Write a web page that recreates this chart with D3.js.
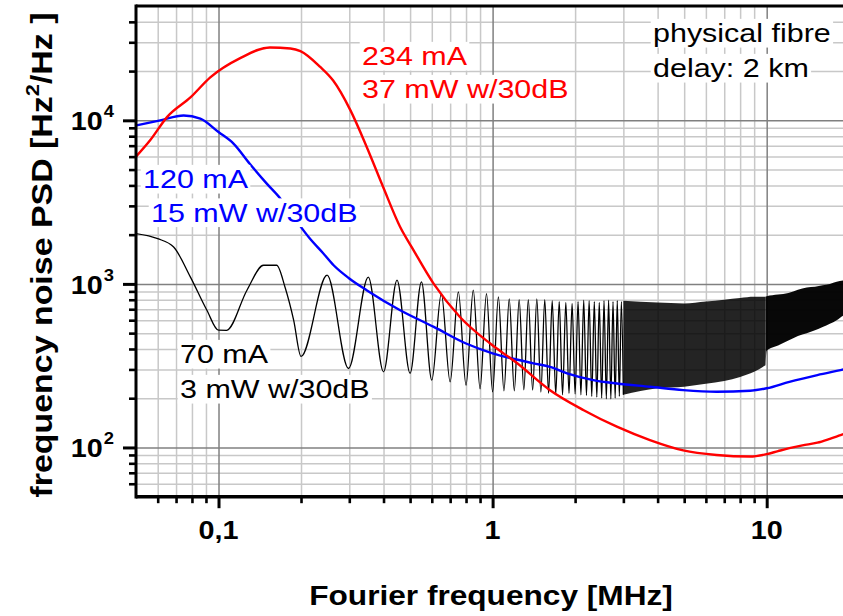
<!DOCTYPE html>
<html>
<head>
<meta charset="utf-8">
<script src="https://cdn.jsdelivr.net/npm/d3@7"></script>
<style>
  body { margin: 0; background: #fff; }
  text { font-family: "Liberation Sans", Arial, sans-serif; }
</style>
</head>
<body>
<svg id="chart"></svg>
<script>
// ---- data (frequency in MHz, PSD in Hz^2/Hz) ----
const redF = [0.05, 0.0563, 0.065, 0.079, 0.0933, 0.12, 0.154, 0.183, 0.199, 0.235, 0.262, 0.303, 0.347,
  0.399, 0.46, 0.51, 0.61, 0.76, 0.98, 1.23, 1.62, 2.15, 2.84, 3.75, 4.96, 6.56, 8.7, 10, 11, 12.1, 13.5,
  15.3, 17, 18.6, 20];
const redV = [6000, 7550, 10500, 13800, 18300, 24000, 27900, 27500, 26500, 21200, 17500, 11500, 6900,
  3900, 2230, 1650, 1000, 628, 432, 327, 224, 169, 134, 111, 96, 90, 88, 91, 95, 99, 103,
  107, 113, 119, 124];

const blueF = [0.05, 0.0613, 0.0746, 0.0858, 0.1, 0.1134, 0.13, 0.15, 0.168, 0.19, 0.215, 0.24, 0.263, 0.3,
  0.347, 0.46, 0.61, 0.8, 1.0, 1.41, 1.62, 1.87, 2.33, 2.84, 3.75, 4.96, 6.56, 8.7, 10, 12.1, 15.3, 18.6, 20];
const blueV = [9300, 10000, 10700, 10240, 8480, 7210, 5430, 4100, 3330, 2500, 1900, 1550, 1300, 1080,
  915, 690, 546, 432, 376, 327, 311, 284, 258, 246, 235, 224, 219, 222, 230, 252, 277, 297, 305];

// black trace: resolved fringes (peaks and troughs) up to 3 MHz
const blackF = [0.05, 0.06, 0.0686, 0.079, 0.0907, 0.1, 0.107, 0.127, 0.146, 0.163, 0.175, 0.188, 0.2,
  0.249, 0.298, 0.352, 0.4, 0.448, 0.5, 0.55, 0.6, 0.65, 0.7, 0.75, 0.8, 0.85, 0.9, 0.95, 1.0,
  1.05, 1.1, 1.15, 1.2, 1.25, 1.3, 1.35, 1.4, 1.45, 1.5, 1.55, 1.6, 1.65, 1.7, 1.75, 1.8, 1.85, 1.9, 1.95, 2.0,
  2.05, 2.1, 2.15, 2.2, 2.25, 2.3, 2.35, 2.4, 2.45, 2.5, 2.55, 2.6, 2.65, 2.7, 2.75, 2.8, 2.85, 2.9, 2.95, 3.0];
const blackV = [2030, 1890, 1680, 1100, 690, 521, 520, 915, 1300, 1300, 950, 600, 360,
  1130, 304, 1100, 290, 1055, 284, 1030, 258, 873, 252, 894, 240, 915, 228, 873, 219,
  834, 222, 810, 222, 800, 225, 800, 224, 810, 218, 800, 214, 790, 212, 780, 210, 770, 214, 760, 212,
  780, 210, 795, 208, 790, 205, 780, 203, 770, 200, 790, 198, 795, 198, 780, 200, 790, 205, 780, 210];

// black trace above 3 MHz: fringes too dense to resolve, read as a band
const bandF  = [3, 4, 5, 6, 7, 8, 9, 9.9];
const bandHi = [790, 770, 760, 780, 800, 820, 834, 834];
const bandLo = [210, 230, 235, 245, 255, 270, 290, 318];
const band2F  = [9.9, 10, 11, 12, 13, 14, 15, 16, 17, 18, 19, 20];
const band2Hi = [834, 840, 860, 880, 920, 950, 960, 980, 1000, 1030, 1050, 1060];
const band2Lo = [318, 390, 420, 450, 480, 500, 520, 545, 570, 600, 640, 660];

const xTickVals = [0.1, 1, 10];
const xTickText = ["0,1", "1", "10"];
const yTickVals = [100, 1000, 10000];
const yTickExp = ["2", "3", "4"];

// ---- layout ----
const W = 843, H = 616;
const pL = 136, pT = 6, pB = 496.7, pR = 849.2;
const SX = 1.15; // glyphs in the figure are wider than Arial

const svg = d3.select("#chart").attr("width", W).attr("height", H);
svg.append("rect").attr("width", W).attr("height", H).attr("fill", "#fff");

const x = d3.scaleLog().domain([0.05, 20]).range([pL, pR]);
const y = d3.scaleLog().domain([50, 50000]).range([pB, pT]);

function minorTicks(lo, hi) {
  const out = [];
  for (let e = Math.floor(Math.log10(lo)); e <= Math.ceil(Math.log10(hi)); e++) {
    for (let m = 2; m <= 9; m++) {
      const v = m * Math.pow(10, e);
      if (v > lo * 1.0001 && v < hi * 0.9999) out.push(v);
    }
  }
  return out;
}
const xMinor = minorTicks(0.05, 20);
const yMinor = minorTicks(50, 50000);

// grid
function grid(axis, translate, vals, color) {
  const g = svg.append("g").attr("transform", translate).call(axis.tickValues(vals).tickFormat(""));
  g.select(".domain").remove();
  g.selectAll("line").attr("stroke", color).attr("stroke-width", 1.5);
}
grid(d3.axisBottom(x).tickSize(-(pB - pT)), `translate(0,${pB})`, xMinor, "#c8c8c8");
grid(d3.axisLeft(y).tickSize(-(pR - pL)), `translate(${pL},0)`, yMinor, "#c8c8c8");
grid(d3.axisBottom(x).tickSize(-(pB - pT)), `translate(0,${pB})`, xTickVals, "#808080");
grid(d3.axisLeft(y).tickSize(-(pR - pL)), `translate(${pL},0)`, yTickVals, "#808080");

// curves
svg.append("clipPath").attr("id", "plot")
  .append("rect").attr("x", pL).attr("y", pT).attr("width", pR - pL).attr("height", pB - pT);
const plot = svg.append("g").attr("clip-path", "url(#plot)");

const line = d3.line().x(d => x(d[0])).y(d => y(d[1])).curve(d3.curveMonotoneX);
const area = d3.area().x(d => x(d[0])).y0(d => y(d[1])).y1(d => y(d[2])).curve(d3.curveMonotoneX);

plot.append("path").datum(d3.zip(bandF, bandLo, bandHi)).attr("d", area)
  .attr("fill", "#000").attr("fill-opacity", 0.86);
plot.append("path").datum(d3.zip(band2F, band2Lo, band2Hi)).attr("d", area)
  .attr("fill", "#000").attr("fill-opacity", 0.97);
plot.append("path").datum(d3.zip(blackF, blackV)).attr("d", line)
  .attr("fill", "none").attr("stroke", "#000").attr("stroke-width", 1.3);
plot.append("path").datum(d3.zip(blueF, blueV)).attr("d", line)
  .attr("fill", "none").attr("stroke", "#0000ff").attr("stroke-width", 2.4);
plot.append("path").datum(d3.zip(redF, redV)).attr("d", line)
  .attr("fill", "none").attr("stroke", "#ff0000").attr("stroke-width", 2.4);

// annotations with white boxes
const notes = [
  { lines: ["234 mA", "37 mW w/30dB"], x: 362, y: [65, 98], color: "#ff0000" },
  { lines: ["physical fibre", "delay: 2 km"], x: 653, y: [42, 77], color: "#000" },
  { lines: ["120 mA", "15 mW w/30dB"], x: 143, y: [188, 221.5], dx: [0, 8], color: "#0000ff" },
  { lines: ["70 mA", "3 mW w/30dB"], x: 180, y: [363, 398], color: "#000" }
];
notes.forEach(n => {
  n.lines.forEach((s, i) => {
    const g = svg.append("g")
      .attr("transform", `translate(${n.x + (n.dx ? n.dx[i] : 0)},${n.y[i]}) scale(${SX},1)`);
    const r = g.append("rect").attr("fill", "#fff");
    const t = g.append("text").attr("font-size", 26.5).attr("fill", n.color).text(s);
    const b = t.node().getBBox();
    r.attr("x", b.x - 2).attr("y", b.y + 1).attr("width", b.width + 4).attr("height", b.height - 1);
  });
});

// axes
function ticks(axis, translate, vals, size, width) {
  const g = svg.append("g").attr("transform", translate)
    .call(axis.tickValues(vals).tickSize(size).tickFormat(""));
  g.select(".domain").remove();
  g.selectAll("line").attr("stroke", "#000").attr("stroke-width", width);
}
ticks(d3.axisBottom(x), `translate(0,${pB})`, xMinor, 6.5, 2.6);
ticks(d3.axisBottom(x), `translate(0,${pB})`, xTickVals, 11.5, 3);
ticks(d3.axisLeft(y), `translate(${pL},0)`, yMinor, 7, 2.6);
ticks(d3.axisLeft(y), `translate(${pL},0)`, yTickVals, 13, 3);

svg.append("line").attr("x1", pL).attr("x2", W).attr("y1", pB).attr("y2", pB)
  .attr("stroke", "#000").attr("stroke-width", 3.5);
svg.append("line").attr("x1", pL).attr("x2", W).attr("y1", pT).attr("y2", pT)
  .attr("stroke", "#000").attr("stroke-width", 3);
svg.append("line").attr("x1", pL).attr("x2", pL).attr("y1", pT - 1.5).attr("y2", pB + 1.7)
  .attr("stroke", "#000").attr("stroke-width", 3);

// tick labels
xTickVals.forEach((v, i) => {
  svg.append("text")
    .attr("transform", `translate(${x(v)},538.5) scale(${SX},1)`)
    .attr("text-anchor", "middle").attr("font-size", 25).attr("font-weight", "bold")
    .text(xTickText[i]);
});
yTickVals.forEach((v, i) => {
  const t = svg.append("text")
    .attr("transform", `translate(114,${y(v) + 10}) scale(${SX},1)`)
    .attr("text-anchor", "end").attr("font-size", 25).attr("font-weight", "bold");
  t.append("tspan").text("10");
  t.append("tspan").attr("font-size", 16).attr("dy", -13).attr("dx", 1).text(yTickExp[i]);
});

// axis titles
svg.append("text")
  .attr("transform", `translate(491,605) scale(${SX},1)`)
  .attr("text-anchor", "middle").attr("font-size", 27.5).attr("font-weight", "bold")
  .text("Fourier frequency [MHz]");

const yt = svg.append("text")
  .attr("transform", `translate(52,255) rotate(-90) scale(${SX},1)`)
  .attr("text-anchor", "middle").attr("font-size", 29.5).attr("font-weight", "bold");
yt.append("tspan").text("frequency noise PSD [Hz");
yt.append("tspan").attr("font-size", 19).attr("dy", -13).text("2");
yt.append("tspan").attr("dy", 13).text("/Hz ]");
</script>
</body>
</html>
